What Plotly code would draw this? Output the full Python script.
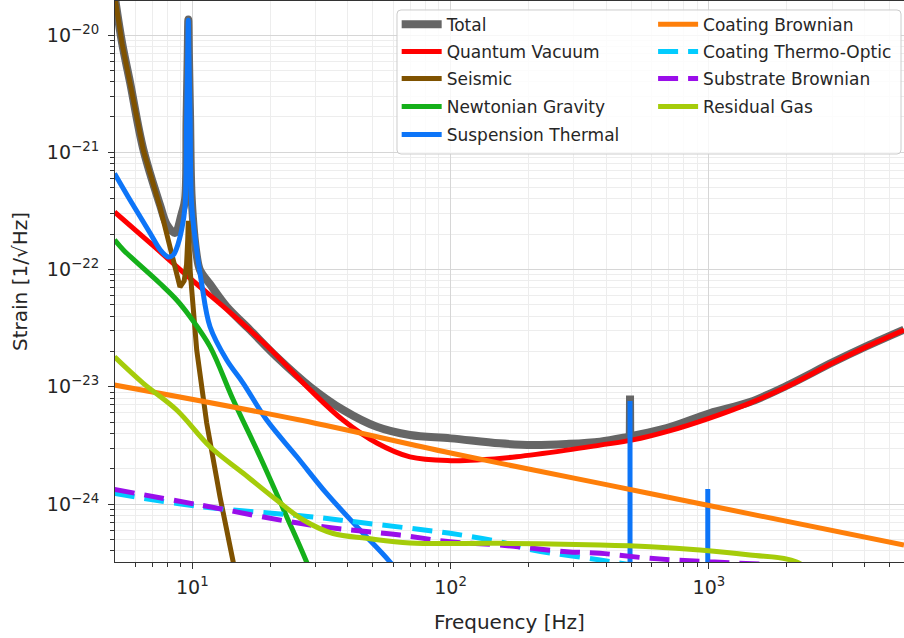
import plotly.graph_objects as go

# ---- noise budget curves (frequency in Hz, amplitude strain in 1/sqrt(Hz)) ----
total_f = [5.0, 5.35, 5.74, 6.46, 7.5, 7.98, 8.57, 9.1, 9.37, 9.5, 9.6, 9.65, 9.7, 9.8, 9.95,
           10.4, 10.71, 11.71, 13.59, 16.73, 21.2, 28.6, 38.4, 51.8, 69.6, 100, 155, 208,
           281, 379, 481, 510, 686, 1007, 1441, 2001, 3023, 4083, 5690]
total_h = [2.2e-20, 8.5e-21, 3.95e-21, 1.06e-21, 3.55e-22, 2.4e-22, 2.05e-22, 3.0e-22, 3.92e-22,
           1.9e-21, 7.0e-21, 1.36e-20, 7.0e-21, 2.1e-21, 4.0e-22, 1.33e-22, 9.9e-23, 7.5e-23,
           4.82e-23, 3.05e-23, 1.8e-23, 1.0e-23, 6.34e-24, 4.56e-24, 3.88e-24, 3.63e-24,
           3.29e-24, 3.19e-24, 3.25e-24, 3.4e-24, 3.72e-24, 3.82e-24, 4.43e-24, 5.94e-24,
           7.4e-24, 1.02e-23, 1.62e-23, 2.22e-23, 3.07e-23]
# narrow first violin-mode line in the total
total_violin_f = [494, 495, 496]
total_violin_h = [3.78e-24, 8.4e-24, 3.78e-24]

quantum_f = [5, 7, 10, 14, 20, 28.6, 38.3, 51.8, 69.6, 100, 130, 180, 281.5, 379, 508, 686,
             1007, 1441, 2001, 3023, 4083, 5690]
quantum_h = [3.1e-22, 1.62e-22, 8.1e-23, 4.3e-23, 2.1e-23, 9.4e-24, 5.2e-24, 3.31e-24,
             2.52e-24, 2.34e-24, 2.38e-24, 2.53e-24, 2.88e-24, 3.18e-24, 3.52e-24, 4.14e-24,
             5.41e-24, 7.26e-24, 1.0e-23, 1.6e-23, 2.2e-23, 3.05e-23]

seismic_f = [5.0, 5.35, 5.74, 6.46, 7.5, 8.44, 8.96, 9.3, 9.5, 9.6, 9.65, 9.7, 9.8, 9.95, 10.4,
             11.37, 12.8, 14.4, 15.6]
seismic_h = [2.2e-20, 8.4e-21, 3.9e-21, 1.045e-21, 3.41e-22, 1.2e-22, 7.1e-23, 8.0e-23, 1.1e-22,
             1.8e-22, 2.6e-22, 1.8e-22, 1.0e-22, 6.3e-23, 2.06e-23, 4.9e-24, 1.15e-24,
             3.2e-25, 1.0e-25]

newtonian_f = [5.0, 5.41, 7.5, 8.7, 9.8, 11.71, 14.41, 18.29, 23.2, 27.7, 34.1]
newtonian_h = [1.79e-22, 1.47e-22, 7.6e-23, 5.5e-23, 3.96e-23, 2.2e-23, 7.7e-24, 2.53e-24,
               7.8e-25, 3.2e-25, 1.0e-25]

susp_f = [5.0, 5.74, 6.86, 7.5, 8.07, 8.44, 8.7, 9.1, 9.37, 9.5, 9.6, 9.65, 9.7, 9.8, 9.95,
          10.4, 10.87, 11.71, 13.59, 15.75, 19.41, 25.4, 33.1, 44.6, 58.3, 76.1]
susp_h = [6.6e-22, 3.92e-22, 2.05e-22, 1.48e-22, 1.28e-22, 1.33e-22, 1.52e-22, 2.2e-22,
          3.43e-22, 1.81e-21, 6.9e-21, 1.34e-20, 6.9e-21, 2.04e-21, 3.43e-22, 1.47e-22,
          7.6e-23, 3.25e-23, 1.69e-23, 1.07e-23, 5.2e-24, 2.53e-24, 1.23e-24, 6.0e-25, 3.2e-25,
          1.5e-25]
# violin modes of the suspension fibres (peak height) and the thermal floor beneath them
violin_f = [495, 990]
violin_h = [7.57e-24, 1.34e-24]
violin_floor = 1e-27

coat_brown_f = [5.0, 26.1, 100, 379, 1000, 5690]
coat_brown_h = [1.035e-23, 5.2e-24, 2.72e-24, 1.5e-24, 9.7e-25, 4.47e-25]

coat_to_f = [5.0, 10.71, 28.6, 47.3, 99.6, 155, 208, 379, 592]
coat_to_h = [1.23e-24, 9.5e-25, 7.8e-25, 6.85e-25, 5.62e-25, 4.76e-25, 4.05e-25, 3.33e-25,
             2.85e-25]

sub_brown_f = [5.0, 10.71, 28.6, 63.7, 99.6, 155, 281.5, 379, 592, 1007, 2251]
sub_brown_h = [1.33e-24, 9.8e-25, 6.62e-25, 5.43e-25, 4.76e-25, 4.47e-25, 3.92e-25, 3.8e-25,
               3.44e-25, 3.22e-25, 2.96e-25]

gas_f = [5.0, 6.46, 8.7, 11.71, 15.75, 21.2, 26.9, 35.1, 47.3, 69.6, 155, 379, 592, 924,
         1441, 2189, 3000]
gas_h = [1.8e-23, 1.07e-23, 6.34e-24, 3.08e-24, 1.83e-24, 1.08e-24, 7.3e-25, 5.6e-25, 5.1e-25,
         4.65e-25, 4.62e-25, 4.47e-25, 4.32e-25, 4.05e-25, 3.67e-25, 3.2e-25, 1.8e-25]

# vertical line segments for the violin modes
violin_x, violin_y = [], []
for f0, h0 in zip(violin_f, violin_h):
    violin_x += [f0, f0, None]
    violin_y += [violin_floor, h0, None]

# (name, freqs, values, colour, width, dash, shape, extra narrow-line segments)
traces = [
    ("Total", total_f, total_h, "#666666", 8, "solid", "spline", (total_violin_f, total_violin_h)),
    ("Quantum Vacuum", quantum_f, quantum_h, "#ff0000", 5, "solid", "spline", None),
    ("Seismic", seismic_f, seismic_h, "#7f5200", 5, "solid", "linear", None),
    ("Newtonian Gravity", newtonian_f, newtonian_h, "#15b01a", 5, "solid", "spline", None),
    ("Suspension Thermal", susp_f, susp_h, "#0d75f8", 5, "solid", "spline", (violin_x, violin_y)),
    ("Coating Brownian", coat_brown_f, coat_brown_h, "#fe7f0a", 5, "solid", "spline", None),
    ("Coating Thermo-Optic", coat_to_f, coat_to_h, "#02ccfe", 5, "20px,10px", "spline", None),
    ("Substrate Brownian", sub_brown_f, sub_brown_h, "#9a0eea", 5, "20px,10px", "spline", None),
    ("Residual Gas", gas_f, gas_h, "#a5cc0a", 5, "solid", "spline", None),
]

# legend slots: two columns of entries inside one framed box
col_x = [0.357, 0.682]
row_y = [0.9578, 0.9091, 0.8610, 0.8111, 0.7611]
slots = [(0, 0), (0, 1), (0, 2), (0, 3), (0, 4), (1, 0), (1, 1), (1, 2), (1, 3)]

fig = go.Figure()
legend_layout = {}
for i, ((name, f, h, col, w, dash, shape, extra), (c, r)) in enumerate(zip(traces, slots)):
    key = "legend" if i == 0 else f"legend{i + 1}"
    fig.add_trace(go.Scatter(
        x=f, y=h, name=name, mode="lines", legendgroup=name,
        line=dict(color=col, width=w, dash=dash, shape=shape, smoothing=1.0),
        legend=key,
    ))
    if extra is not None:
        fig.add_trace(go.Scatter(
            x=extra[0], y=extra[1], name=name, mode="lines", legendgroup=name,
            line=dict(color=col, width=w), legend=key, showlegend=False,
        ))
    legend_layout[key] = dict(
        x=col_x[c], y=row_y[r], xanchor="left", yanchor="middle",
        bgcolor="rgba(0,0,0,0)", borderwidth=0, itemwidth=40,
        font=dict(family="DejaVu Sans", size=17, color="#262626"),
    )

minor_vals = [m * 10 ** d for d in range(-25, 4) for m in range(2, 10)]
axis_common = dict(
    type="log", showline=True, linecolor="#333333", linewidth=1.2,
    ticks="outside", ticklen=6, tickwidth=1.2, tickcolor="#333333",
    showgrid=True, gridcolor="#d6d6d6", gridwidth=1, zeroline=False,
    minor=dict(ticks="outside", ticklen=3.5, tickcolor="#333333", showgrid=True,
               gridcolor="#ededed", gridwidth=1, tickmode="array", tickvals=minor_vals),
    tickfont=dict(family="DejaVu Sans", size=19, color="#262626"),
)

x_ticks = [10, 100, 1000]
y_ticks = [1e-24, 1e-23, 1e-22, 1e-21, 1e-20]
fig.update_xaxes(**axis_common, range=[0.7007, 3.7553], mirror=True, ticklabelstandoff=2,
                 tickmode="array", tickvals=x_ticks,
                 ticktext=["10<sup>1</sup>", "10<sup>2</sup>", "10<sup>3</sup>"],
                 title=dict(text="Frequency [Hz]", font=dict(size=20), standoff=18))
fig.update_yaxes(**axis_common, range=[-24.4947, -19.7097], ticklabelstandoff=5,
                 tickmode="array", tickvals=y_ticks,
                 ticktext=["10<sup>−24</sup>", "10<sup>−23</sup>", "10<sup>−22</sup>",
                           "10<sup>−21</sup>", "10<sup>−20</sup>"],
                 title=dict(text="Strain [1/√Hz]", font=dict(size=20), standoff=13))

# rounded legend frame
x0, x1, y0, y1 = 0.3574, 0.9962, 0.7273, 0.984
rx, ry = 4 / 789, 4 / 561
path = (f"M{x0+rx},{y1} L{x1-rx},{y1} Q{x1},{y1} {x1},{y1-ry} L{x1},{y0+ry} Q{x1},{y0} {x1-rx},{y0} "
        f"L{x0+rx},{y0} Q{x0},{y0} {x0},{y0+ry} L{x0},{y1-ry} Q{x0},{y1} {x0+rx},{y1} Z")
fig.add_shape(type="path", path=path, xref="paper", yref="paper",
              fillcolor="rgba(255,255,255,0.8)", line=dict(color="#cccccc", width=1), layer="above")

fig.update_layout(
    width=904, height=638,
    margin=dict(l=115, r=0, t=1, b=76),
    plot_bgcolor="white", paper_bgcolor="white",
    font=dict(family="DejaVu Sans", size=17, color="#262626"),
    showlegend=True,
    **legend_layout,
)

fig.write_html("out.html")
